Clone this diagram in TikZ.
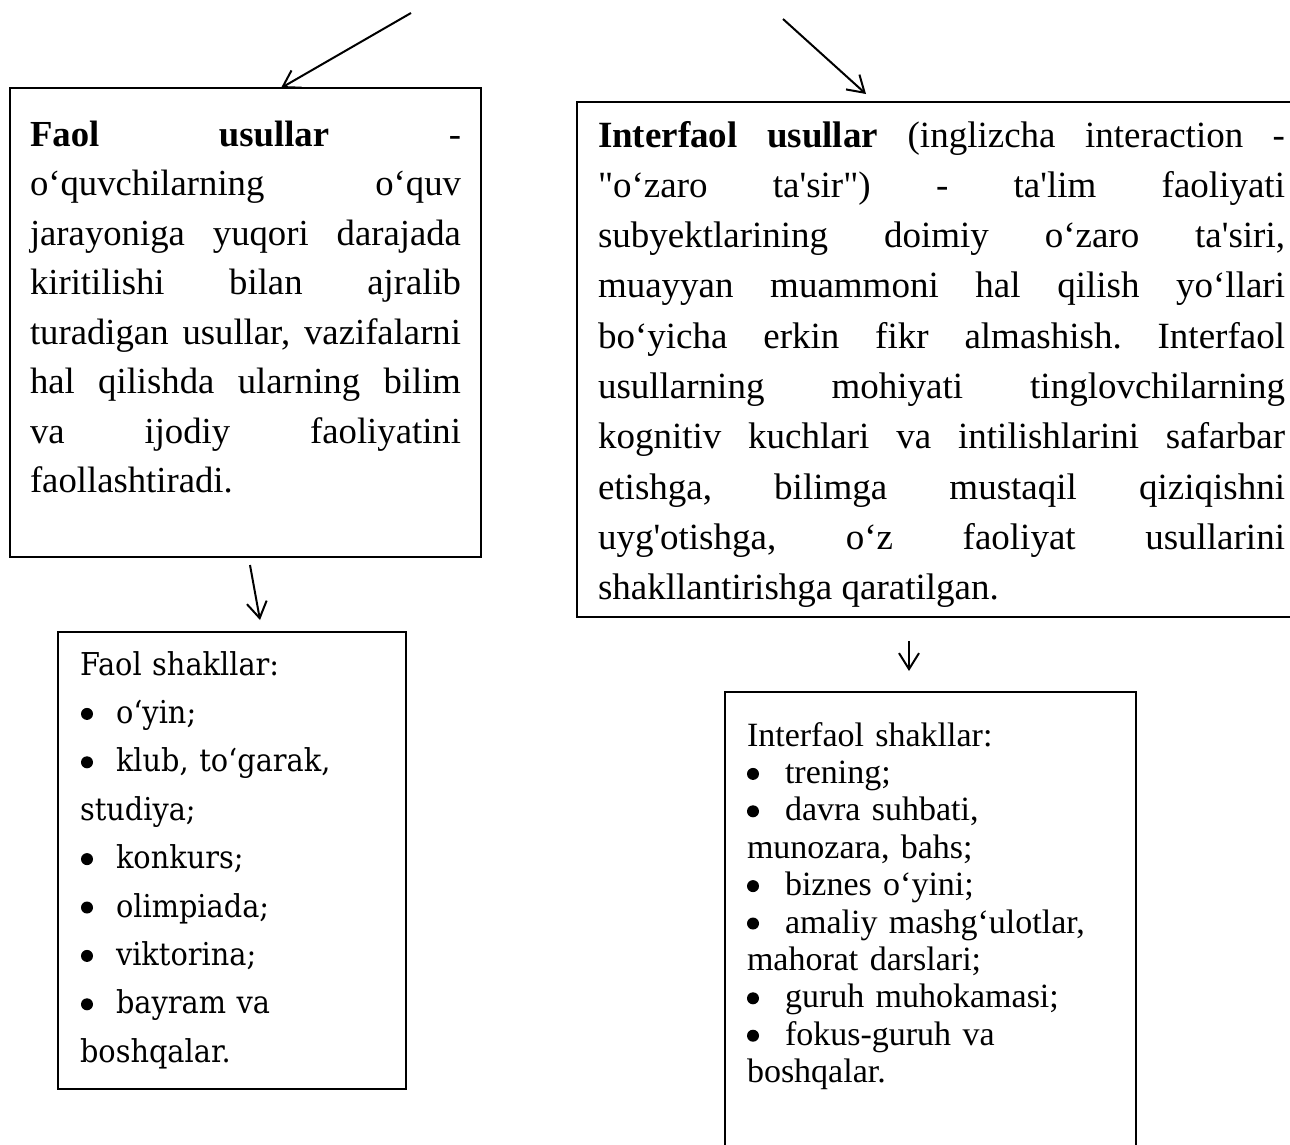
\documentclass[tikz,border=0pt]{standalone}
\usepackage{fontspec}
\setmainfont{Liberation Serif}[Ligatures=TeXOff]
\newfontfamily\cambfont{DejaVu Serif}[Ligatures=TeXOff,FakeStretch=0.914]
\usetikzlibrary{arrows.meta}
\tolerance=10000
\hbadness=10000
\frenchspacing
\newcommand{\dotmark}{\tikz[baseline=0pt]\fill (0pt,9.5pt) circle (6pt);}
\newcommand{\bitem}[3][36pt]{\makebox[#1][l]{\hspace{#2}\dotmark}#3}

\begin{document}
\begin{tikzpicture}[x=1pt,y=-1pt,>={Straight Barb[length=16pt,width=20pt]},
  box/.style={draw,line width=2.6pt,outer sep=0pt,anchor=north west,inner ysep=0pt,align=justify},
  conn/.style={->,line width=2pt}]
\useasboundingbox (0,0) rectangle (1290,1144);

\node[box,inner xsep=20pt,text width=431pt,text height=58pt,text depth=411pt,
  font=\fontsize{36.7}{49.5}\selectfont] (faol) at (10,88) {%
\textbf{Faol usullar} -\linebreak
o‘quvchilarning o‘quv\linebreak
jarayoniga yuqori darajada\linebreak
kiritilishi bilan ajralib\linebreak
turadigan usullar, vazifalarni\linebreak
hal qilishda ularning bilim\linebreak
va ijodiy faoliyatini\linebreak
faollashtiradi.};

\node[box,inner xsep=21pt,text width=687pt,text height=45pt,text depth=470pt,
  font=\fontsize{37}{50.3}\selectfont] (inter) at (577,102) {%
\textbf{Interfaol usullar} (inglizcha interaction -\linebreak
"o‘zaro ta'sir") - ta'lim faoliyati\linebreak
subyektlarining doimiy o‘zaro ta'siri,\linebreak
muayyan muammoni hal qilish yo‘llari\linebreak
bo‘yicha erkin fikr almashish. Interfaol\linebreak
usullarning mohiyati tinglovchilarning\linebreak
kognitiv kuchlari va intilishlarini safarbar\linebreak
etishga, bilimga mustaqil qiziqishni\linebreak
uyg'otishga, o‘z faoliyat usullarini\linebreak
shakllantirishga qaratilgan.};

\node[box,align=left,inner xsep=22pt,text width=304pt,text height=43pt,text depth=414pt,
  font=\cambfont\fontsize{31.5}{48.4}\selectfont] (faolsh) at (58,632) {%
Faol shakllar:\\
\bitem{1pt}{o‘yin;}\\
\bitem{1pt}{klub, to‘garak,}\\
studiya;\\
\bitem{1pt}{konkurs;}\\
\bitem{1pt}{olimpiada;}\\
\bitem{1pt}{viktorina;}\\
\bitem{1pt}{bayram va}\\
boshqalar.};

\node[box,align=left,inner xsep=22pt,text width=367pt,text height=54pt,text depth=420pt,
  font=\fontsize{34}{37.4}\selectfont] (intsh) at (725,692) {%
Interfaol shakllar:\\
\bitem[38pt]{0pt}{trening;}\\
\bitem[38pt]{0pt}{davra suhbati,}\\
munozara, bahs;\\
\bitem[38pt]{0pt}{biznes o‘yini;}\\
\bitem[38pt]{0pt}{amaliy mashg‘ulotlar,}\\
mahorat darslari;\\
\bitem[38pt]{0pt}{guruh muhokamasi;}\\
\bitem[38pt]{0pt}{fokus-guruh va}\\
boshqalar.};

% arrows
\coordinate (s1) at (411,13);
\coordinate (s2) at (783,19);
\draw[conn] (s1) -- ([xshift=271pt]faol.north west);
\draw[conn] (s2) -- ([xshift=289pt,yshift=8pt]inter.north west);
\draw[conn] ([xshift=240pt,yshift=-8pt]faol.south west) -- ([xshift=202pt,yshift=12pt]faolsh.north west);
\draw[conn] ([xshift=332pt,yshift=-24pt]inter.south west) -- ([xshift=184pt,yshift=21pt]intsh.north west);

\end{tikzpicture}
\end{document}
